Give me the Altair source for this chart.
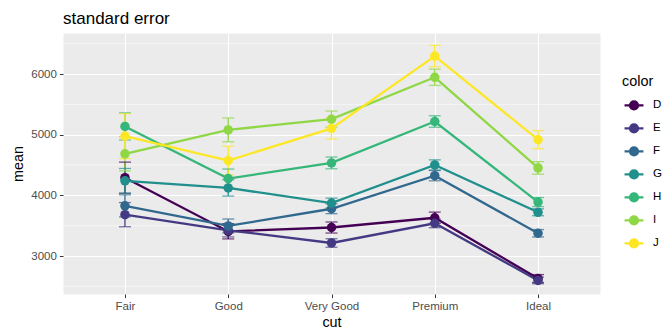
import altair as alt
import pandas as pd

# Mean diamond price by cut and colour, with standard errors
cuts = ["Fair", "Good", "Very Good", "Premium", "Ideal"]
colors = ["D", "E", "F", "G", "H", "I", "J"]

mean_D = [4291, 3405, 3470, 3631, 2629]
mean_E = [3682, 3424, 3215, 3539, 2598]
mean_F = [3827, 3496, 3779, 4325, 3375]
mean_G = [4239, 4123, 3873, 4501, 3721]
mean_H = [5136, 4276, 4535, 5217, 3889]
mean_I = [4685, 5079, 5256, 5946, 4452]
mean_J = [4976, 4574, 5104, 6295, 4918]

se_D = [257, 123, 91, 93, 65]
se_E = [199, 109, 70, 72, 54]
se_F = [182, 114, 81, 85, 61]
se_G = [204, 135, 81, 84, 57]
se_H = [223, 158, 97, 95, 75]
se_I = [282, 197, 134, 134, 104]
se_J = [371, 237, 175, 178, 150]

palette = ["#440154", "#443A83", "#31688E", "#21908C", "#35B779", "#8FD744", "#FDE725"]
minor_breaks = [2500, 3500, 4500, 5500, 6500]
major_breaks = [3000, 4000, 5000, 6000]

means = [mean_D, mean_E, mean_F, mean_G, mean_H, mean_I, mean_J]
ses = [se_D, se_E, se_F, se_G, se_H, se_I, se_J]

rows = []
for c, m_list, s_list in zip(colors, means, ses):
    for cut, m, s in zip(cuts, m_list, s_list):
        rows.append({"cut": cut, "color": c, "mean": m, "lo": m - s, "hi": m + s})
df = pd.DataFrame(rows)
minor_df = pd.DataFrame({"v": minor_breaks})

FONT = "Liberation Sans"

x_enc = alt.X(
    "cut:N",
    sort=cuts,
    scale=alt.Scale(type="point", padding=0.6),
    axis=alt.Axis(title="cut", labelAngle=0),
)
y_scale = alt.Scale(domain=[2374, 6676], nice=False, zero=False)
color_enc = alt.Color(
    "color:N",
    sort=colors,
    scale=alt.Scale(domain=colors, range=palette),
    legend=alt.Legend(title="color"),
)

base = alt.Chart(df)

minor_grid = alt.Chart(minor_df).mark_rule(color="white", strokeWidth=0.55).encode(
    y=alt.Y("v:Q", scale=y_scale)
)

err_rule = base.mark_rule(strokeWidth=1.3).encode(
    x=x_enc,
    y=alt.Y(
        "lo:Q",
        scale=y_scale,
        axis=alt.Axis(title="mean", values=major_breaks, format="d"),
    ),
    y2="hi:Q",
    color=color_enc,
)
cap_lo = base.mark_tick(size=12, thickness=1.3, orient="horizontal").encode(
    x=x_enc, y=alt.Y("lo:Q", scale=y_scale), color=color_enc
)
cap_hi = base.mark_tick(size=12, thickness=1.3, orient="horizontal").encode(
    x=x_enc, y=alt.Y("hi:Q", scale=y_scale), color=color_enc
)
lines = base.mark_line(strokeWidth=2.3).encode(
    x=x_enc,
    y=alt.Y("mean:Q", scale=y_scale),
    color=color_enc,
    detail="color:N",
)
points = base.mark_point(filled=True, size=90, opacity=1).encode(
    x=x_enc,
    y=alt.Y("mean:Q", scale=y_scale),
    color=color_enc,
)

key_path = (
    "M-0.9,0L0.9,0"
    "M-0.38,0A0.38,0.38,0,1,1,0.38,0A0.38,0.38,0,1,1,-0.38,0Z"
)

chart = (
    alt.layer(minor_grid, err_rule, cap_lo, cap_hi, lines, points)
    .properties(
        width=537,
        height=261,
        autosize=alt.AutoSizeParams(type="none"),
        padding={"left": 63, "top": 33, "right": 63, "bottom": 36},
        title=alt.TitleParams(
            "standard error",
            anchor="start",
            frame="group",
            font=FONT,
            fontSize=17,
            fontWeight="normal",
            color="black",
            baseline="alphabetic",
            offset=11,
            dy=19,
        ),
    )
    .configure(background="white")
    .configure_view(fill="#EBEBEB", stroke="transparent")
    .configure_axis(
        grid=True,
        gridColor="white",
        gridWidth=1.1,
        domain=False,
        tickColor="#333333",
        tickSize=3.6,
        tickWidth=1,
        labelFont=FONT,
        labelFontSize=11.5,
        labelColor="#4D4D4D",
        labelPadding=3,
        titleFont=FONT,
        titleFontSize=14.4,
        titleFontWeight="normal",
        titleColor="black",
    )
    .configure_axisX(titlePadding=3)
    .configure_axisY(titlePadding=5)
    .configure_legend(
        orient="none",
        legendX=559,
        legendY=42,
        padding=0,
        titleFont=FONT,
        titleFontSize=14.4,
        titleFontWeight="normal",
        titleColor="black",
        titlePadding=4,
        labelFont=FONT,
        labelFontSize=11.5,
        labelColor="black",
        labelOffset=7,
        rowPadding=2,
        symbolType=key_path,
        symbolSize=441,
        symbolStrokeWidth=2.2,
        symbolOpacity=1,
    )
)

chart.save("out.html", embed_options={"renderer": "svg", "actions": False})
